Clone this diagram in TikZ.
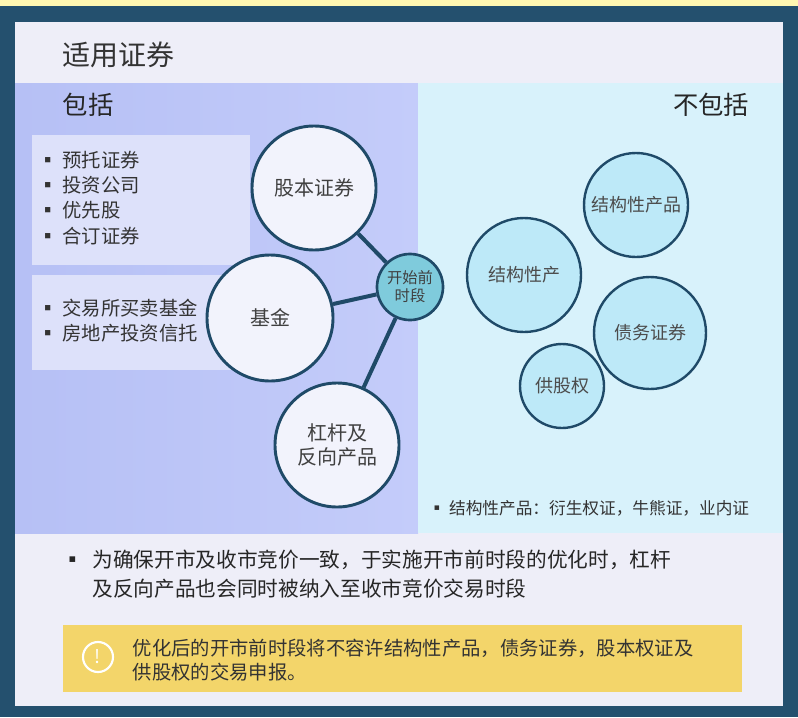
\documentclass[tikz,border=0pt]{standalone}
\usepackage{fontspec}
\setmainfont{Noto Sans CJK SC}
\definecolor{dkb}{HTML}{1F4A68}
\definecolor{cy}{HTML}{BDE9F8}
\definecolor{bgd}{HTML}{24506E}
\definecolor{lbl}{HTML}{B6C0F5}
\definecolor{lbr}{HTML}{C4CCFA}
\definecolor{rgt}{HTML}{D8F2FB}
\definecolor{prec}{HTML}{7FCBDC}
\definecolor{ylw}{HTML}{F3D56A}
\definecolor{panel}{HTML}{EEEEF8}
\definecolor{lbox}{HTML}{DDE1FA}
\definecolor{bigf}{HTML}{F2F3FC}
\begin{document}
\begin{tikzpicture}[x=0.75pt,y=-0.75pt,
 bigc/.style={circle,draw=dkb,line width=2.2pt,fill=bigf,inner sep=0pt,align=center,font=\fontsize{15}{18}\selectfont,text=black!75},
 rc/.style={circle,draw=dkb,line width=1.8pt,fill=cy,inner sep=0pt,align=center,font=\fontsize{13.5}{16}\selectfont,text=black!70},
 lnk/.style={draw=dkb,line width=3pt},
 lst/.style={anchor=north west,align=left,font=\fontsize{14.5}{19}\selectfont,text=black!80}]
\useasboundingbox (0,0) rectangle (798,717);
\fill[bgd] (0,0) rectangle (798,717);
\fill[orange!20!yellow!30] (0,0) rectangle (798,6);
\fill[panel] (15,22) rectangle (783,706);
\shade[left color=lbl,right color=lbr] (15,83) rectangle (418,533);
\fill[rgt] (418,83) rectangle (783,533);
\node[anchor=west,font=\fontsize{21}{24}\selectfont,text=black!80] (title) at (58,55) {适用证券};
\node[anchor=west,font=\fontsize{19}{22}\selectfont,text=black!85] (inc) at (58,105) {包括};
\node[anchor=east,font=\fontsize{19}{22}\selectfont,text=black!85] (exc) at (754,105) {不包括};
\fill[lbox] (32,135) rectangle (250,265);
\fill[lbox] (32,275) rectangle (250,370);
\node[lst] (l1) at (34,146) {▪ 预托证券\\▪ 投资公司\\▪ 优先股\\▪ 合订证券};
\node[lst] (l2) at (34,294) {▪ 交易所买卖基金\\▪ 房地产投资信托};
\node[circle,draw=dkb,line width=2pt,fill=prec,minimum size=66*0.75pt,inner sep=0pt,align=center,font=\fontsize{11.5}{13.5}\selectfont,text=black!75] (pre) at (410,287) {开始前\\时段};
\node[bigc,minimum size=124*0.75pt] (eq) at (314,188) {股本证券};
\node[bigc,minimum size=126*0.75pt] (fund) at (270,318) {基金};
\node[bigc,minimum size=124*0.75pt] (lev) at (337,445) {杠杆及\\反向产品};
\draw[lnk] (eq) -- (pre); \draw[lnk] (fund) -- (pre); \draw[lnk] (lev) -- (pre);
\node[rc,minimum size=104*0.75pt] (sp) at (636,205) {结构性产品};
\node[rc,minimum size=114*0.75pt] (sp2) at (524,275) {结构性产};
\node[rc,minimum size=112*0.75pt] (debt) at (650,333) {债务证券};
\node[rc,minimum size=84*0.75pt] (rights) at (562,386) {供股权};
\node[anchor=west,font=\fontsize{12.5}{15}\selectfont,text=black!80] (note) at (424,508) {▪ 结构性产品：衍生权证，牛熊证，业内证};
\node[anchor=north west,align=left,font=\fontsize{15.5}{22}\selectfont,text=black!85] (b1) at (58,545) {▪ \ 为确保开市及收市竞价一致，于实施开市前时段的优化时，杠杆\\\phantom{▪ \ }及反向产品也会同时被纳入至收市竞价交易时段};
\fill[ylw] (63,625) rectangle (742,692);
\node[circle,draw=white,line width=1.6pt,minimum size=30*0.75pt,inner sep=0pt,text=white,font=\fontsize{14}{14}\selectfont] (ic) at (98,657) {!};
\node[anchor=north west,align=left,font=\fontsize{14.5}{18}\selectfont,text=black!80] (warn) at (128,634) {优化后的开市前时段将不容许结构性产品，债务证券，股本权证及\\供股权的交易申报。};
\end{tikzpicture}
\end{document}
